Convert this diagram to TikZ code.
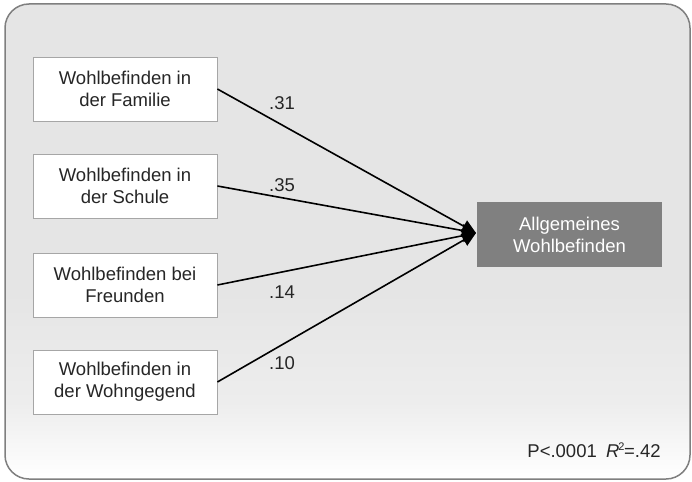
\documentclass[tikz,border=0pt]{standalone}
\usepackage{fontspec}
\setmainfont{Liberation Sans}
\usetikzlibrary{arrows.meta}
\definecolor{boxedge}{HTML}{A6A6A6}
\definecolor{targetfill}{HTML}{808080}
\definecolor{frameedge}{HTML}{7F7F7F}
\definecolor{txt}{HTML}{262626}
\pgfdeclareverticalshading{bgshade}{100bp}{color(0bp)=(white); color(25bp)=(white); color(33bp)=(black!7); color(44bp)=(black!10); color(75bp)=(black!10); color(100bp)=(black!10)}
\tikzset{
  every node/.style={font=\fontsize{18.5}{22}\selectfont, text=txt},
  srcbox/.style={draw=boxedge, line width=0.8pt, fill=white, minimum width=184pt, minimum height=64pt, align=center, inner sep=0pt},
  tgtbox/.style={fill=targetfill, minimum width=185pt, minimum height=65pt, align=center, inner sep=0pt, text=white},
  pathline/.style={line width=1.6pt, black, -{Triangle[length=14pt,width=13pt]}},
  coef/.style={inner sep=0pt}
}
\begin{document}
\begin{tikzpicture}[x=1pt,y=-1pt]
\useasboundingbox (0,0) rectangle (692,481);
\path[shading=bgshade, draw=frameedge, line width=1.5pt, rounded corners=24pt] (5,4) rectangle (690,479);
\node[srcbox] (b1) at (125,89) {Wohlbefinden in\\der Familie};
\node[srcbox] (b2) at (125,186) {Wohlbefinden in\\der Schule};
\node[srcbox] (b3) at (125,285) {Wohlbefinden bei\\Freunden};
\node[srcbox] (b4) at (125,382) {Wohlbefinden in\\der Wohngegend};
\node[tgtbox] (t) at (569.5,234.5) {Allgemeines\\Wohlbefinden};
\coordinate (tip) at (476,233);
\draw[pathline] (b1.east) -- (tip);
\draw[pathline] (b2.east) -- (tip);
\draw[pathline] (b3.east) -- (tip);
\draw[pathline] (b4.east) -- (tip);
\node[coef] (c1) at (282,103) {.31};
\node[coef] (c2) at (282,185) {.35};
\node[coef] (c3) at (282,292) {.14};
\node[coef] (c4) at (282,363) {.10};
\node[coef] (stat) at (594,450) {P<.0001\hspace{0.5em}\textit{R}\kern-1pt\raisebox{6.5pt}{\fontsize{11}{11}\selectfont 2}\kern-0.5pt=.42};
\end{tikzpicture}
\end{document}
